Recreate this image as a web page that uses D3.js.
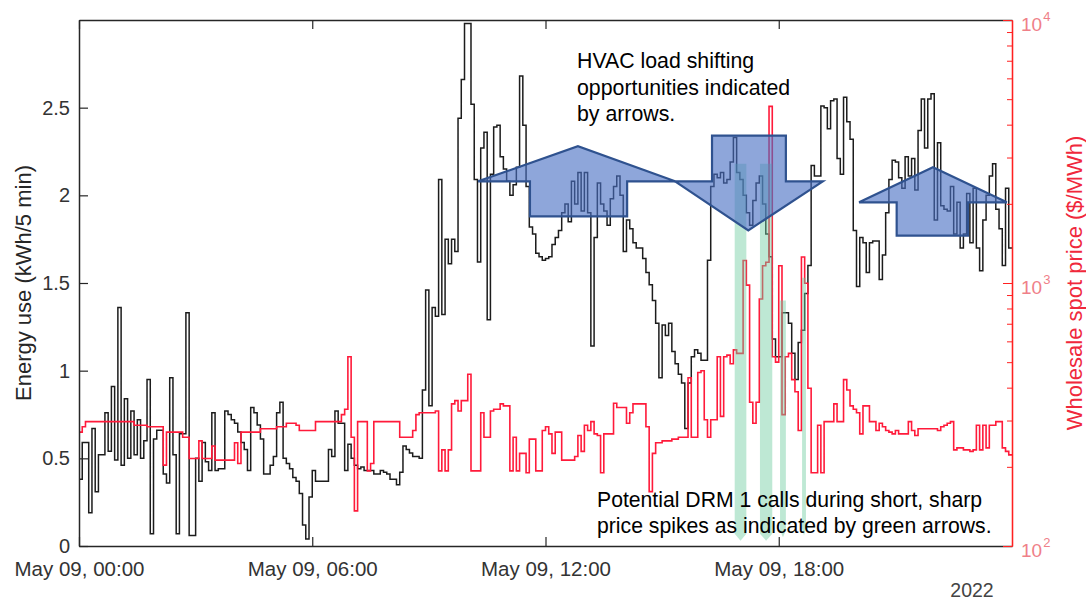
<!DOCTYPE html>
<html>
<head>
<meta charset="utf-8">
<script src="https://cdn.jsdelivr.net/npm/d3@7"></script>
<style>
  body { margin: 0; background: #fff; }
  svg { display: block; font-family: "Liberation Sans", Arial, sans-serif; }
</style>
</head>
<body>
<div id="chart"></div>
<script>
// 5-minute readings, May 09 00:00 -> 23:55
const energy = [
  0.38, 0.59, 0.59, 0.19, 0.67, 0.31, 0.52, 0.52, 0.76, 0.54,
  0.91, 0.49, 1.36, 0.46, 0.84, 0.50, 0.77, 0.52, 0.72, 0.50,
  0.60, 0.95, 0.07, 0.61, 0.66, 0.66, 0.41, 0.36, 0.96, 0.52,
  0.07, 0.64, 0.64, 1.33, 0.06, 0.06, 0.50, 0.37, 0.59, 0.48,
  0.43, 0.76, 0.43, 0.44, 0.44, 0.77, 0.75, 0.72, 0.70, 0.65,
  0.59, 0.55, 0.43, 0.79, 0.76, 0.69, 0.61, 0.41, 0.41, 0.46,
  0.51, 0.76, 0.82, 0.50, 0.47, 0.44, 0.39, 0.37, 0.30, 0.12,
  0.04, 0.28, 0.43, 0.37, 0.37, 0.37, 0.37, 0.55, 0.51, 0.77,
  0.70, 0.70, 0.43, 0.58, 0.50, 0.46, 0.44, 0.45, 0.43, 0.43,
  0.43, 0.41, 0.41, 0.43, 0.42, 0.41, 0.38, 0.38, 0.35, 0.42,
  0.57, 0.55, 0.53, 0.51, 0.51, 0.50, 0.89, 1.46, 0.80, 1.36,
  1.31, 2.09, 1.32, 1.75, 1.61, 1.75, 1.68, 2.44, 2.66, 2.98,
  2.98, 2.52, 2.09, 1.62, 2.27, 2.36, 1.29, 2.12, 2.39, 2.40,
  2.22, 2.15, 2.08, 2.00, 2.06, 2.16, 2.68, 2.40, 2.05, 1.82,
  1.78, 1.67, 1.65, 1.63, 1.64, 1.65, 1.72, 1.76, 1.80, 1.90,
  1.95, 1.85, 2.08, 1.95, 2.13, 1.91, 2.13, 1.90, 1.14, 1.76,
  2.07, 1.95, 1.91, 1.83, 1.98, 2.05, 2.11, 2.00, 1.68, 1.86,
  1.81, 1.73, 1.70, 1.70, 1.64, 1.56, 1.49, 1.40, 1.27, 0.96,
  1.26, 1.20, 1.27, 1.11, 1.04, 0.98, 0.93, 0.67, 0.93, 1.08,
  1.12, 1.10, 1.06, 1.06, 1.63, 2.05, 2.12, 2.10, 2.13, 2.07,
  2.09, 2.19, 2.33, 2.13, 2.09, 2.00, 1.90, 1.83, 1.97, 2.07,
  2.11, 1.95, 1.78, 1.65, 1.18, 1.08, 1.08, 1.33, 1.33, 1.27,
  1.10, 0.95, 1.16, 1.23, 1.44, 1.60, 2.17, 2.11, 2.11, 2.51,
  2.50, 2.38, 2.54, 2.55, 2.21, 2.12, 2.56, 2.42, 2.32, 1.80,
  1.48, 1.76, 1.73, 1.56, 1.73, 1.74, 1.74, 1.52, 1.66, 1.90,
  2.09, 2.20, 2.19, 2.10, 2.04, 2.22, 2.11, 2.21, 2.03, 2.37,
  2.55, 2.27, 2.55, 2.58, 1.86, 2.30, 1.94, 1.92, 1.91, 2.05,
  1.78, 1.96, 1.70, 1.78, 2.01, 1.73, 2.04, 1.70, 1.57, 1.86,
  2.00, 2.11, 2.18, 1.92, 1.81, 1.60, 2.04, 1.70
];

// wholesale spot price, $/MWh
const price = [
  271, 284, 297, 297, 297, 297, 297, 297, 297, 297,
  297, 297, 297, 297, 297, 297, 297, 288, 288, 288,
  288, 284, 284, 284, 284, 284, 203, 271, 271, 271,
  271, 271, 259, 259, 215, 215, 215, 251, 215, 215,
  215, 240, 212, 212, 212, 212, 212, 212, 247, 206,
  271, 271, 271, 271, 271, 271, 279, 279, 279, 279,
  279, 284, 284, 284, 293, 293, 293, 288, 275, 275,
  275, 275, 275, 297, 297, 297, 297, 297, 297, 297,
  297, 316, 331, 524, 259, 136, 297, 297, 297, 193,
  206, 297, 297, 297, 297, 297, 297, 297, 297, 259,
  259, 259, 259, 275, 316, 321, 321, 321, 321, 321,
  326, 193, 232, 193, 232, 347, 357, 326, 357, 357,
  450, 193, 193, 193, 321, 259, 259, 326, 331, 331,
  347, 341, 341, 193, 259, 193, 225, 225, 190, 255,
  255, 193, 193, 275, 284, 267, 225, 271, 271, 212,
  212, 212, 212, 219, 263, 229, 288, 275, 297, 267,
  263, 190, 267, 267, 267, 349, 336, 336, 336, 293,
  321, 347, 347, 347, 347, 284, 161, 225, 247, 247,
  251, 251, 251, 255, 255, 259, 259, 259, 436, 259,
  259, 457, 464, 302, 259, 302, 302, 524, 311, 524,
  532, 493, 557, 540, 540, 1217, 982, 352, 293, 352,
  869, 1163, 1199, 4695, 524, 500, 1163, 316, 524, 540,
  429, 386, 275, 1256, 998, 398, 190, 190, 288, 190,
  297, 297, 297, 347, 297, 297, 429, 392, 341, 331,
  321, 267, 341, 341, 297, 297, 275, 293, 284, 275,
  271, 267, 275, 267, 267, 267, 297, 275, 263, 279,
  279, 279, 279, 279, 279, 275, 284, 288, 293, 297,
  232, 236, 236, 232, 232, 229, 232, 288, 232, 288,
  236, 288, 288, 297, 297, 236, 229, 222
];

const startTime = new Date(2022, 4, 9, 0, 0);
const stepMinutes = 5;
const xTickHours = [0, 6, 12, 18];
const energyTicks = [0, 0.5, 1, 1.5, 2, 2.5];
const priceTicks = [100, 1000, 10000];

// annotation shapes, in [minutes since midnight, kWh/5 min]
const shiftArrows = [
  [[616, 2.08], [770, 2.28], [920, 2.08], [846, 2.08], [846, 1.88], [696, 1.88], [696, 2.08]],
  [[977, 2.34], [1091, 2.34], [1091, 2.08], [1148, 2.08], [1033, 1.80], [920, 2.08], [977, 2.08]],
  [[1204, 1.96], [1318, 2.16], [1432, 1.96], [1372, 1.96], [1372, 1.77], [1262, 1.77], [1262, 1.96]]
];
// DRM call markers: [start min, end min, top kWh, tip kWh]
const drmArrows = [
  [1012, 1030, 2.18, 0.03],
  [1051, 1070, 2.18, 0.03],
  [1082, 1091, 1.40, 0.05],
  [1116, 1122, 1.53, 0.06]
];

(function () {
  const minToDate = m => new Date(startTime.getTime() + m * 60000);

  const energyData = energy.map((v, i) => ({ t: minToDate(i * stepMinutes), v }));
  const priceData = price.map((v, i) => ({ t: minToDate(i * stepMinutes), v }));
  // close the last 5-min step
  energyData.push({ t: minToDate(energy.length * stepMinutes), v: energy[energy.length - 1] });
  priceData.push({ t: minToDate(price.length * stepMinutes), v: price[price.length - 1] });

  // Layout
  const width = 1086, height = 602;
  const plotL = 79, plotR = 1012, plotT = 20, plotB = 546;

  const svg = d3.select("#chart").append("svg")
    .attr("width", width)
    .attr("height", height);

  svg.append("rect").attr("width", width).attr("height", height).attr("fill", "#fff");

  const x = d3.scaleTime()
    .domain([startTime, minToDate(24 * 60)])
    .range([plotL, plotR]);

  const y = d3.scaleLinear().domain([0, 3]).range([plotB, plotT]);
  const yP = d3.scaleLog().domain([100, 10000]).range([plotB, plotT]);

  svg.append("clipPath").attr("id", "plotclip")
    .append("rect")
    .attr("x", plotL).attr("y", plotT - 1)
    .attr("width", plotR - plotL).attr("height", plotB - plotT + 2);

  const plot = svg.append("g").attr("clip-path", "url(#plotclip)");

  // Series
  plot.append("path")
    .datum(energyData)
    .attr("fill", "none")
    .attr("stroke", "#1c1c1c")
    .attr("stroke-width", 1.5)
    .attr("d", d3.line().x(d => x(d.t)).y(d => y(d.v)).curve(d3.curveStepAfter));

  plot.append("path")
    .datum(priceData)
    .attr("fill", "none")
    .attr("stroke", "#ff1a3a")
    .attr("stroke-width", 1.6)
    .attr("d", d3.line().x(d => x(d.t)).y(d => yP(d.v)).curve(d3.curveStepAfter));

  // Green DRM arrows
  svg.append("g").selectAll("path")
    .data(drmArrows)
    .join("path")
    .attr("fill", "rgb(110,205,160)")
    .attr("fill-opacity", 0.45)
    .attr("d", ([t0, t1, vTop, vTip]) => {
      const x0 = x(minToDate(t0)), x1 = x(minToDate(t1));
      const yT = y(vTop), yB = y(vTip);
      return `M${x0},${yT}L${x1},${yT}L${x1},${yB - 7}L${(x0 + x1) / 2},${yB}L${x0},${yB - 7}Z`;
    });

  // Blue load shifting arrows
  svg.append("g").selectAll("path")
    .data(shiftArrows)
    .join("path")
    .attr("fill", "rgb(72,112,196)")
    .attr("fill-opacity", 0.62)
    .attr("stroke", "#2f528f")
    .attr("stroke-width", 2.2)
    .attr("d", pts => d3.line().x(p => x(minToDate(p[0]))).y(p => y(p[1]))(pts) + "Z");

  // Axes
  const tickFmt = d3.timeFormat("%b %d, %H:%M");
  const xTickDates = xTickHours.map(h => minToDate(h * 60));

  const xAxis = svg.append("g")
    .attr("transform", `translate(0,${plotB})`)
    .call(d3.axisBottom(x).tickValues(xTickDates).tickFormat(tickFmt)
      .tickSizeInner(-9).tickSizeOuter(0).tickPadding(15));
  xAxis.select(".domain").attr("stroke", "#262626").attr("stroke-width", 1.5);
  xAxis.selectAll(".tick line").attr("stroke", "#262626").attr("stroke-width", 1.2);
  xAxis.selectAll("text").attr("fill", "#333").style("font-size", "20.5px");

  const xTop = svg.append("g")
    .attr("transform", `translate(0,${plotT})`)
    .call(d3.axisTop(x).tickValues(xTickDates).tickFormat("")
      .tickSizeInner(-9).tickSizeOuter(0));
  xTop.select(".domain").attr("stroke", "#262626").attr("stroke-width", 1.5);
  xTop.selectAll(".tick line").attr("stroke", "#262626").attr("stroke-width", 1.2);

  const yAxis = svg.append("g")
    .attr("transform", `translate(${plotL},0)`)
    .call(d3.axisLeft(y).tickValues(energyTicks).tickFormat(d => String(d))
      .tickSizeInner(-9).tickSizeOuter(0).tickPadding(9));
  yAxis.select(".domain").attr("stroke", "#262626").attr("stroke-width", 1.5);
  yAxis.selectAll(".tick line").attr("stroke", "#262626").attr("stroke-width", 1.2);
  yAxis.selectAll("text").attr("fill", "#333").style("font-size", "20px");

  // Right log axis: minor ticks then decades
  const minorTicks = [];
  [100, 1000].forEach(dec => d3.range(2, 10).forEach(k => minorTicks.push(k * dec)));

  const yMinor = svg.append("g")
    .attr("transform", `translate(${plotR},0)`)
    .call(d3.axisRight(yP).tickValues(minorTicks).tickFormat("")
      .tickSizeInner(-5).tickSizeOuter(0));
  yMinor.select(".domain").attr("stroke", "#ff2020").attr("stroke-width", 1.3);
  yMinor.selectAll(".tick line").attr("stroke", "#ff2020");

  const yRight = svg.append("g")
    .attr("transform", `translate(${plotR},0)`)
    .call(d3.axisRight(yP).tickValues(priceTicks).tickFormat(() => "10")
      .tickSizeInner(-9).tickSizeOuter(0).tickPadding(9));
  yRight.select(".domain").attr("stroke", "#ff2020").attr("stroke-width", 1.3);
  yRight.selectAll(".tick line").attr("stroke", "#ff2020");
  yRight.selectAll("text")
    .attr("fill", "#ef8088")
    .attr("dy", "0.55em")
    .style("font-size", "19px")
    .each(function (d) {
      d3.select(this).append("tspan")
        .attr("dy", "-0.75em")
        .attr("dx", "1")
        .style("font-size", "13px")
        .text(Math.round(Math.log10(d)));
    });

  // Axis titles
  svg.append("text")
    .attr("transform", `translate(31,${(plotT + plotB) / 2}) rotate(-90)`)
    .attr("text-anchor", "middle")
    .attr("fill", "#262626")
    .style("font-size", "22px")
    .text("Energy use (kWh/5 min)");

  svg.append("text")
    .attr("transform", `translate(1082,${(plotT + plotB) / 2}) rotate(-90)`)
    .attr("text-anchor", "middle")
    .attr("fill", "#f0283c")
    .style("font-size", "22px")
    .text("Wholesale spot price ($/MWh)");

  svg.append("text")
    .attr("x", 972).attr("y", 597)
    .attr("text-anchor", "middle")
    .attr("fill", "#444")
    .style("font-size", "19.5px")
    .text("2022");

  // Notes
  const noteHvac = ["HVAC load shifting", "opportunities indicated", "by arrows."];
  svg.append("g").selectAll("text")
    .data(noteHvac)
    .join("text")
    .attr("x", 577)
    .attr("y", (_, i) => 68 + i * 26.5)
    .attr("fill", "#000")
    .style("font-size", "21.3px")
    .text(d => d);

  const noteDrm = ["Potential DRM 1 calls during short, sharp", "price spikes as indicated by green arrows."];
  svg.append("g").selectAll("text")
    .data(noteDrm)
    .join("text")
    .attr("x", 597)
    .attr("y", (_, i) => 507 + i * 26)
    .attr("fill", "#000")
    .style("font-size", "21.2px")
    .text(d => d);
})();
</script>
</body>
</html>
